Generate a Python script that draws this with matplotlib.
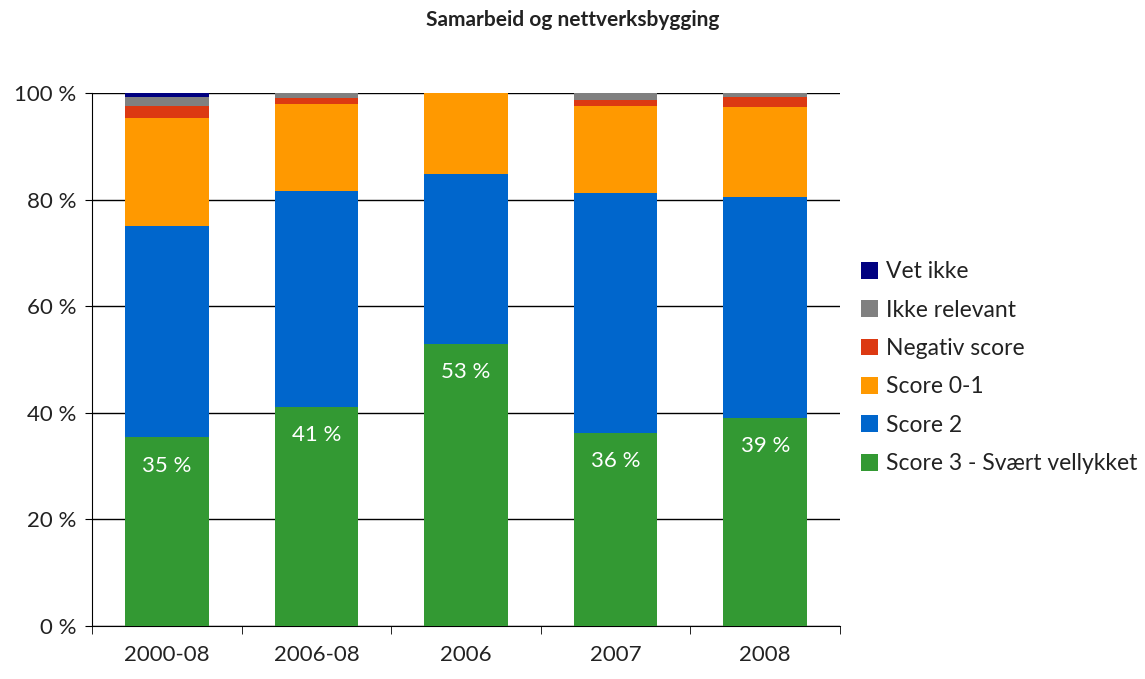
import numpy as np
import matplotlib
matplotlib.use("Agg")
import matplotlib.pyplot as plt

plt.rcParams['font.family'] = ['Lato', 'DejaVu Sans']

categories = ["2000-08", "2006-08", "2006", "2007", "2008"]
# stacked from bottom
score3 = [35.4, 41.1, 52.9, 36.2, 39.0]
score2 = [39.6, 40.5, 31.9, 45.0, 41.5]
score01 = [20.3, 16.3, 15.2, 16.4, 16.9]
negativ = [2.3, 1.2, 0.0, 1.1, 1.8]
ikke_relevant = [1.7, 0.9, 0.0, 1.3, 0.8]
vet_ikke = [0.7, 0.0, 0.0, 0.0, 0.0]

series = [
    ("Score 3 - Svært vellykket", score3, "#339933"),
    ("Score 2", score2, "#0066CC"),
    ("Score 0-1", score01, "#FF9900"),
    ("Negativ score", negativ, "#DC3912"),
    ("Ikke relevant", ikke_relevant, "#808080"),
    ("Vet ikke", vet_ikke, "#000080"),
]

fig = plt.figure(figsize=(11.45, 6.79), dpi=100)
ax = fig.add_axes([92/1145, 1 - 626/679, (840-92)/1145, (626-93)/679])

x = np.arange(len(categories))
bottom = np.zeros(len(categories))
handles = []
for name, vals, col in series:
    b = ax.bar(x, vals, 0.56, bottom=bottom, color=col, label=name, zorder=3)
    handles.append(b)
    bottom += np.array(vals)

# data labels on green segment
for xi, v in zip(x, score3):
    ax.text(xi, v - 5.3, f"{round(v):.0f} %", ha="center", va="center",
            color="white", fontsize=16, zorder=4)

ax.set_xlim(-0.5, 4.5)
ax.set_ylim(0, 100)
ax.set_yticks(np.arange(0, 101, 20))
ax.set_yticklabels([f"{v} %" for v in range(0, 101, 20)], fontsize=16, color="#222222")
ax.set_xticks(x)
ax.set_xticklabels(categories, fontsize=16, color="#222222")
ax.set_xticks(np.arange(-0.5, 5, 1), minor=True)
ax.tick_params(axis="x", which="major", length=0, pad=14)
ax.tick_params(axis="x", which="minor", length=6, color="black", direction="out")
ax.tick_params(axis="y", length=5, color="black", pad=6)
ax.yaxis.grid(True, color="black", linewidth=1, zorder=0)
for s in ["top", "right"]:
    ax.spines[s].set_visible(False)
ax.spines["left"].set_color("black")
ax.spines["bottom"].set_color("black")

fig.text(0.5, 1 - 20/679, "Samarbeid og nettverksbygging", ha="center", va="center",
         fontsize=15, fontweight="bold", color="#222222")

leg = fig.legend(handles[::-1], [s[0] for s in series][::-1], loc="upper left",
                 bbox_to_anchor=(852/1145, 1 - 252/679), frameon=False, fontsize=16.5,
                 handlelength=0.75, handleheight=0.75, handletextpad=0.35,
                 labelspacing=0.76, borderaxespad=0)
for t in leg.get_texts():
    t.set_color("#222222")

fig.savefig("out.png", dpi=100)
